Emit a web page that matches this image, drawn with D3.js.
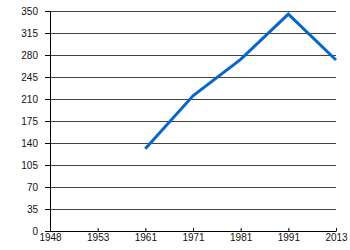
<!DOCTYPE html>
<html>
<head>
<meta charset="utf-8">
<script src="https://cdn.jsdelivr.net/npm/d3@7"></script>
<style>
  body { margin: 0; background: #fff; }
  text { font-family: "Liberation Sans", Arial, sans-serif; }
</style>
</head>
<body>
<div id="chart-area"></div>
<script>
// Data //
const years = ["1948", "1953", "1961", "1971", "1981", "1991", "2013"];
const values = [null, null, 131, 215, 273, 345, 272];
const yTicks = [0, 35, 70, 105, 140, 175, 210, 245, 280, 315, 350];

// Configure canvas //
const margins = {left: 50, right: 14, bottom: 19, top: 11};
const width = 350 - margins.left - margins.right;
const height = 250 - margins.top - margins.bottom;

var g = d3.select("#chart-area")
  .append("svg")
  .attr("width", width + margins.left + margins.right)
  .attr("height", height + margins.top + margins.bottom)
  .append("g")
  .attr("transform", "translate(" + margins.left + ", " + margins.top + ")");

// X scale
var xScale = d3.scalePoint()
  .domain(years)
  .range([0, width]);

// Y scale
var yScale = d3.scaleLinear()
  .domain([0, 350])
  .range([height, 0]);

// Gridlines
g.append("g")
  .attr("class", "grid")
  .selectAll("line")
  .data(yTicks.filter(d => d > 0))
  .enter()
  .append("line")
  .attr("x1", 0)
  .attr("x2", width)
  .attr("y1", d => Math.round(yScale(d)) + 0.5)
  .attr("y2", d => Math.round(yScale(d)) + 0.5)
  .attr("stroke", "#444")
  .attr("stroke-width", 1);

// X Axis
var xAxisCall = d3.axisBottom(xScale)
  .tickSize(-3)
  .tickPadding(3)
  .tickSizeOuter(0);
var xAxis = g.append("g")
  .attr("class", "x axis")
  .attr("transform", "translate(0," + height + ")")
  .call(xAxisCall);

// Y Axis
var yAxisCall = d3.axisLeft(yScale)
  .tickValues(yTicks)
  .tickSize(5)
  .tickPadding(7)
  .tickSizeOuter(0);
var yAxis = g.append("g")
  .attr("class", "y axis")
  .call(yAxisCall);

[xAxis, yAxis].forEach(a => {
  a.select(".domain").attr("stroke", "#000");
  a.selectAll(".tick line").attr("stroke", "#000");
  a.selectAll(".tick text")
    .attr("fill", "#111")
    .attr("font-size", "10px")
    .attr("font-family", "Liberation Sans, Arial, sans-serif");
});

// Line
var line = d3.line()
  .defined(d => d.value != null)
  .x(d => xScale(d.year))
  .y(d => yScale(d.value));

g.append("path")
  .datum(years.map((y, i) => ({year: y, value: values[i]})))
  .attr("fill", "none")
  .attr("stroke", "#0766c8")
  .attr("stroke-width", 3)
  .attr("stroke-linejoin", "miter")
  .attr("d", line);
</script>
</body>
</html>
